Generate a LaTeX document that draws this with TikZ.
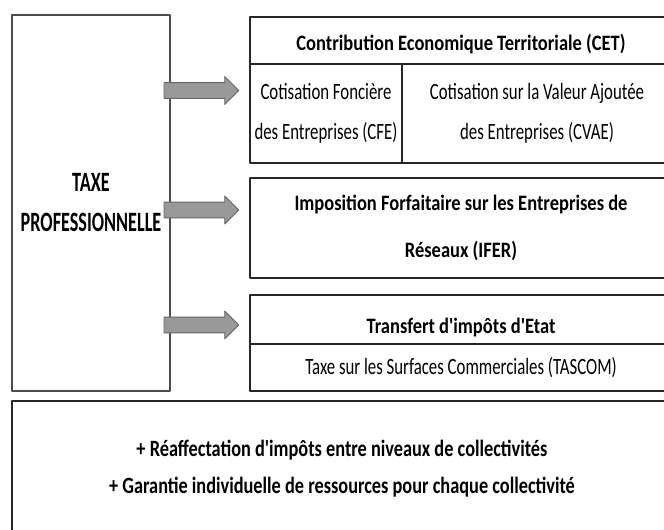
\documentclass[tikz,border=0pt]{standalone}
\usepackage{fontspec}
\setmainfont{Carlito}
\newfontfamily\headfont{Carlito}[FakeStretch=0.84]
\newfontfamily\taxefont{Carlito}[FakeStretch=0.65]
\newfontfamily\basfont{Carlito}[FakeStretch=0.785]
\newfontfamily\cellfont{Carlito}[FakeStretch=0.72]
\usetikzlibrary{shapes.arrows}

\tikzset{
  box/.style={draw=black!85, line width=1.3pt, inner sep=0pt, align=center},
  headbox/.style={box, font=\headfont\bfseries\fontsize{16.5}{35}\selectfont},
  cellbox/.style={box, font=\cellfont\fontsize{17.5}{30}\selectfont},
  sink/.style={execute at begin node={\rule{0pt}{#1}}},
  fatarrow/.style={single arrow, draw=black!60, fill=black!40, line width=0.6pt,
    inner xsep=0pt, inner ysep=5.6pt, minimum height=56pt,
    single arrow head extend=4.6pt, single arrow head indent=0pt, anchor=tail}
}

\begin{document}
\begin{tikzpicture}[x=0.75pt, y=-0.75pt, line join=round]
  \useasboundingbox (0,0) rectangle (664,530);
  \clip (0,0) rectangle (664,530);
  % ancienne taxe
  \node[box, sink=27pt, line width=1pt, draw=black!70, minimum width=118.5pt,
        minimum height=282pt, font=\taxefont\bfseries\fontsize{21}{30}\selectfont]
        (taxe) at (91,203) {TAXE\\PROFESSIONNELLE};
  % CET
  \node[headbox, sink=18pt, minimum width=316.5pt, minimum height=35.25pt] (cet)
        at (461,40.5) {Contribution Economique Territoriale (CET)};
  \node[cellbox, sink=26.5pt, minimum width=114pt, minimum height=74.25pt] (cfe)
        at (326,113.5) {Cotisation Foncière\\des Entreprises (CFE)};
  \node[cellbox, sink=26.5pt, minimum width=202.5pt, minimum height=74.25pt] (cvae)
        at (537,113.5) {Cotisation sur la Valeur Ajoutée\\des Entreprises (CVAE)};
  % IFER
  \node[headbox, sink=28pt, minimum width=316.5pt, minimum height=75pt] (ifer)
        at (461,228) {Imposition Forfaitaire sur les Entreprises de\\Réseaux (IFER)};
  % transfert
  \node[headbox, sink=24pt, minimum width=316.5pt, minimum height=36.75pt] (etat)
        at (461,319.5) {Transfert d'impôts d'Etat};
  \node[cellbox, minimum width=316.5pt, minimum height=35.25pt] (tascom)
        at (461,367.5) {Taxe sur les Surfaces Commerciales (TASCOM)};
  % mesures
  \node[box, minimum width=495pt, minimum height=104.25pt] (bas) at (342,470.5) {};
  \node[font=\basfont\bfseries\fontsize{17.5}{27.75}\selectfont, align=center] (mesures)
        at (342,468.5)
        {+ Réaffectation d'impôts entre niveaux de collectivités\\
         + Garantie individuelle de ressources pour chaque collectivité};
  % fleches
  \node[fatarrow] (f1) at ([xshift=-5.25pt]taxe.east |- 0,90.5) {};
  \node[fatarrow] (f2) at ([xshift=-5.25pt]taxe.east |- 0,210) {};
  \node[fatarrow] (f3) at ([xshift=-5.25pt]taxe.east |- 0,325) {};
\end{tikzpicture}
\end{document}
